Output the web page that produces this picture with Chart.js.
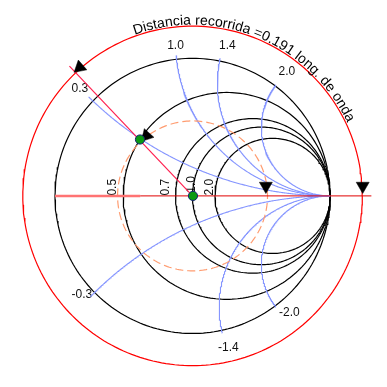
<!DOCTYPE html>
<html>
<head>
<meta charset="utf-8">
<script src="https://cdn.jsdelivr.net/npm/chart.js@4"></script>
<style>
html, body { margin: 0; padding: 0; background: #fff; }
canvas { display: block; }
</style>
</head>
<body>
<canvas id="smithChart" width="387" height="387"></canvas>
<script>
// datos de la carta de Smith
var rValues = [0, 0.33, 0.78, 1.0, 1.39];          // circulos de resistencia dibujados
var rLabels = ["0.5", "0.7", "1.0", "2.0"];
var xValues = [0.4, 0.89, 1.22, 2.0, -0.41, -1.24, -2.0]; // arcos de reactancia
var xLabels = ["0.3", "1.0", "1.4", "2.0", "-0.3", "-1.4", "-2.0"];
var swrRadius = 0.545;
var outerRadius = 1.234;
var greenPoints = [{x: -0.382, y: 0.410}, {x: 0.003, y: 0}];
var arrowPoints = [{x: -0.82, y: 0.934}, {x: 1.237, y: 0.072}, {x: 0.533, y: 0.072}, {x: -0.334, y: 0.437}];
var arrowAngles = [229, 180, 180, 222];
var pathAngle = 133.5;
var pathLength = 1.30;
var titleText = "Distancia recorrida =0.191 long. de onda";

// posiciones de las etiquetas (coordenadas gamma)
var rLabelPos = [[-0.582, 0.063], [-0.192, 0.063], [-0.007, 0.084], [0.122, 0.063]];
var xLabelPos = [[-0.819, 0.780], [-0.124, 1.094], [0.253, 1.094], [0.686, 0.906],
                 [-0.805, -0.718], [0.261, -1.101], [0.704, -0.850]];

function circlePts(cx, cy, rad) {
    var pts = [];
    for (var i = 0; i <= 240; i++) {
        var t = i / 240 * 2 * Math.PI;
        pts.push({x: cx + rad * Math.cos(t), y: cy + rad * Math.sin(t)});
    }
    return pts;
}

// arco de reactancia constante: gamma = (z-1)/(z+1), z = r + jx
function arcPts(x) {
    var pts = [];
    for (var i = 0; i < 300; i++) {
        var s = i / 300;
        var r = -0.025 + s / (1 - s);
        var d = (r + 1) * (r + 1) + x * x;
        pts.push({x: (r * r - 1 + x * x) / d, y: 2 * x / d});
    }
    pts.push({x: 1, y: 0});
    return pts;
}

function lineSet(data, color, width, dash) {
    return {
        data: data,
        showLine: true,
        borderColor: color,
        borderWidth: width,
        borderDash: dash || [],
        pointRadius: 0,
        fill: false,
        tension: 0,
    };
}

var datasets = [];

// puntos verdes
datasets.push({
    data: greenPoints,
    pointStyle: "circle",
    pointRadius: 4.6,
    backgroundColor: "#0a9a12",
    borderColor: "#14206e",
    borderWidth: 1,
});

// flechas
datasets.push({
    data: arrowPoints,
    pointStyle: "triangle",
    pointRadius: 7.5,
    rotation: arrowAngles,
    backgroundColor: "#000",
    borderColor: "#000",
    borderWidth: 0.5,
});

// linea radial recorrida
var a = pathAngle * Math.PI / 180;
datasets.push(lineSet([{x: 0, y: 0}, {x: pathLength * Math.cos(a), y: pathLength * Math.sin(a)}], "#ff2050", 1.2));

// eje real
datasets.push(lineSet([{x: -0.38, y: 0}, {x: 1.30, y: 0}], "#e00000", 1));
datasets.push(lineSet([{x: -1, y: 0}, {x: -0.38, y: 0}], "#ff7373", 2.5));

// circulo de ROE
datasets.push(lineSet(circlePts(0, 0, swrRadius), "#ff9c70", 1.2, [8, 4]));

// arcos de reactancia
xValues.forEach(function (x) {
    datasets.push(lineSet(arcPts(x), "#8595ff", 1.1));
});

// circulos de resistencia
rValues.forEach(function (r) {
    datasets.push(lineSet(circlePts(r / (1 + r), 0, 1 / (1 + r)), "#000", 1.2));
});

// circulo exterior rojo
datasets.push(lineSet(circlePts(0, 0, outerRadius), "#ff0000", 1.2));

var labelsPlugin = {
    id: "smithLabels",
    beforeDatasetsDraw: function (chart) {
        var c = chart.ctx, sx = chart.scales.x, sy = chart.scales.y;
        c.save();
        c.fillStyle = "#111";
        c.font = '12px "Liberation Sans", Arial, sans-serif';
        c.textAlign = "center";
        c.textBaseline = "middle";
        xLabels.forEach(function (t, i) {
            c.fillText(t, sx.getPixelForValue(xLabelPos[i][0]), sy.getPixelForValue(xLabelPos[i][1]));
        });
        rLabels.forEach(function (t, i) {
            c.save();
            c.translate(sx.getPixelForValue(rLabelPos[i][0]), sy.getPixelForValue(rLabelPos[i][1]));
            c.rotate(-Math.PI / 2);
            c.fillText(t, 0, 0);
            c.restore();
        });
        c.restore();
    },
    afterDraw: function (chart) {
        // titulo curvo sobre el circulo exterior
        var c = chart.ctx, sx = chart.scales.x, sy = chart.scales.y;
        var cx = sx.getPixelForValue(0), cy = sy.getPixelForValue(0);
        var R = (sx.getPixelForValue(outerRadius) - cx) + 1.5;
        c.save();
        c.fillStyle = "#000";
        c.font = '14px "Liberation Sans", Arial, sans-serif';
        c.textAlign = "center";
        c.textBaseline = "alphabetic";
        var total = c.measureText(titleText).width;
        var start = 67.5 * Math.PI / 180 + total / 2 / R;
        for (var i = 0; i < titleText.length; i++) {
            var before = c.measureText(titleText.slice(0, i)).width;
            var w = c.measureText(titleText[i]).width;
            var ang = start - (before + w / 2) / R;
            c.save();
            c.translate(cx + R * Math.cos(ang), cy - R * Math.sin(ang));
            c.rotate(Math.PI / 2 - ang);
            c.fillText(titleText[i], 0, 0);
            c.restore();
        }
        c.restore();
    },
};

var ctx = document.getElementById("smithChart").getContext("2d");
var smithChart = new Chart(ctx, {
    type: "scatter",
    data: { datasets: datasets },
    options: {
        responsive: false,
        animation: false,
        devicePixelRatio: 1,
        layout: { padding: 0 },
        plugins: { legend: { display: false }, tooltip: { enabled: false } },
        scales: {
            x: { type: "linear", min: -1.3415, max: 1.3554, display: false },
            y: { type: "linear", min: -1.331, max: 1.3659, display: false },
        },
    },
    plugins: [labelsPlugin],
});
</script>
</body>
</html>
